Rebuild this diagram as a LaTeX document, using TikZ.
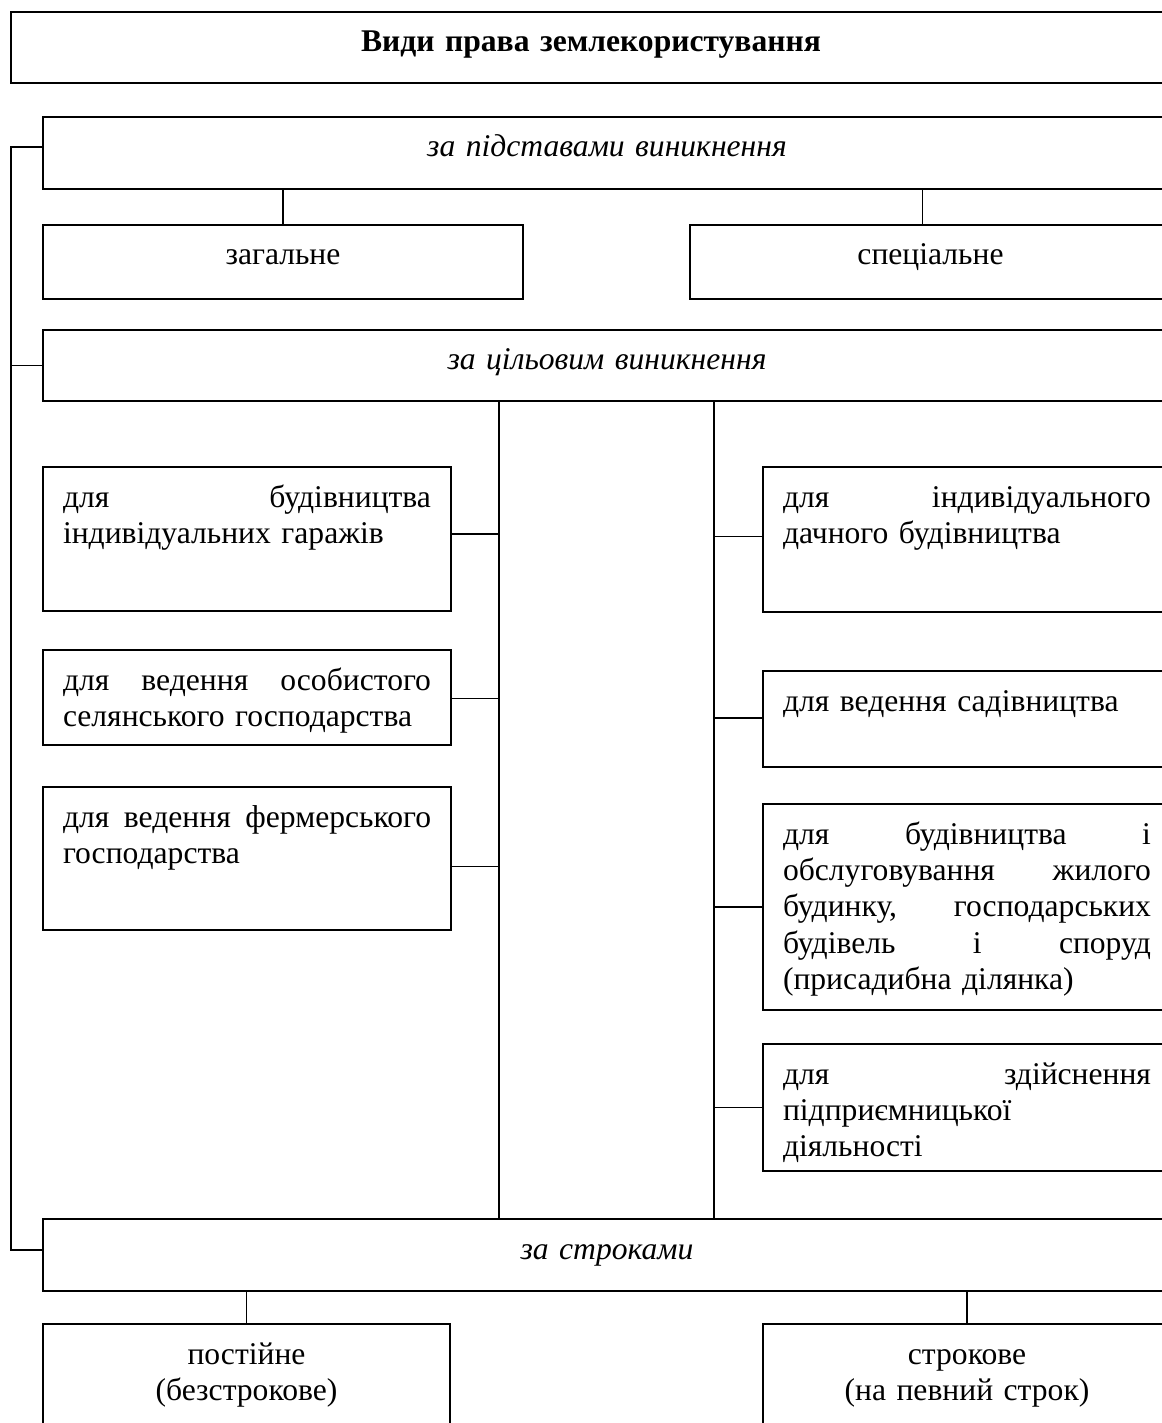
\documentclass[tikz,border=0pt]{standalone}
\usepackage{fontspec}
\setmainfont{Liberation Serif}
\newlength\px
\setlength\px{0.443pt}
\newcommand\cellfont{\fontsize{14pt}{16.1pt}\selectfont}
\begin{document}
\begin{tikzpicture}[x=0.443pt, y=-0.443pt,
  cell/.style={draw, line width=1.4\px, anchor=north west, outer sep=0pt,
    inner xsep=20\px, inner ysep=0pt, text height=40\px, text depth={(#1-40)*\px},
    font=\cellfont},
  head/.style={cell=#1, align=center, font=\cellfont\itshape},
  link/.style={draw, line width=1.1\px}]
\tikzset{kind/.style={cell=#1, align=left, text width=368\px}}
\useasboundingbox (0,0) rectangle (1162,1423);
\clip (0,0) rectangle (1162,1423);

\node[cell=71, align=center, line width=2.2\px, font=\cellfont\bfseries, text width=1120\px] (title) at (11,12) {Види права землекористування};

% by origin
\node[head=72, text width=1088\px] (zp) at (43,117) {за підставами виникнення};
\node[cell=74, align=center, text width=440\px] (zag) at (43,225) {загальне};
\node[cell=74, align=center, text width=441\px] (spec) at (690,225) {спеціальне};

% by purpose
\node[head=71, text width=1088\px] (cil) at (43,330) {за цільовим виникнення};
\node[kind=144] (gar) at (43,467) {для\hfill будівництва\\індивідуальних гаражів};
\node[kind=95] (osob) at (43,650) {для\hfill ведення\hfill особистого\\селянського господарства};
\node[kind=143] (ferm) at (43,787) {для\hfill ведення\hfill фермерського\\господарства};
\node[kind=145] (dach) at (763,467) {для\hfill індивідуального\\дачного будівництва};
\node[kind=96] (sad) at (763,671) {для ведення садівництва};
\node[kind=206] (pris) at (763,804) {для\hfill будівництва\hfill і\\обслуговування\hfill жилого\\будинку,\hfill господарських\\будівель\hfill і\hfill споруд\\(присадибна ділянка)};
\node[kind=127] (pidp) at (763,1044) {для\hfill здійснення\\підприємницької\\діяльності};

% by term
\node[head=72, text width=1088\px] (str) at (43,1219) {за строками};
\node[cell=130, align=center, text width=367\px] (post) at (43,1324) {постійне\\(безстрокове)};
\node[cell=130, align=center, text width=368\px] (strk) at (763,1324) {строкове\\(на певний строк)};

\coordinate (obus) at (11,0);
\coordinate (lbus) at (499,0);
\coordinate (rbus) at (714,0);
\coordinate (zpin) at ([yshift=6\px]zp.west);
\coordinate (strin) at ([yshift=5\px]str.west);
\coordinate (specin) at ([xshift=-8\px]spec.north);

\draw[link] (zpin) -| (obus |- strin) -- (strin);
\draw[link] (cil.west) -- (cil.west -| obus);
\draw[link] (zag.north) -- (zag.north |- zp.south);
\draw[link] (specin) -- (specin |- zp.south);
\draw[link] (lbus |- cil.south) -- (lbus |- str.north);
\draw[link] (rbus |- cil.south) -- (rbus |- str.north);
\foreach \b/\s in {gar/5, osob/-1, ferm/-8}
  \draw[link] ([yshift=\s\px]\b.east) coordinate (t) -- (t -| lbus);
\foreach \b/\s in {dach/3, sad/1, pris/0, pidp/0}
  \draw[link] ([yshift=\s\px]\b.west) coordinate (t) -- (t -| rbus);
\draw[link] (post.north) -- (post.north |- str.south);
\draw[link] (strk.north) -- (strk.north |- str.south);
\end{tikzpicture}
\end{document}
